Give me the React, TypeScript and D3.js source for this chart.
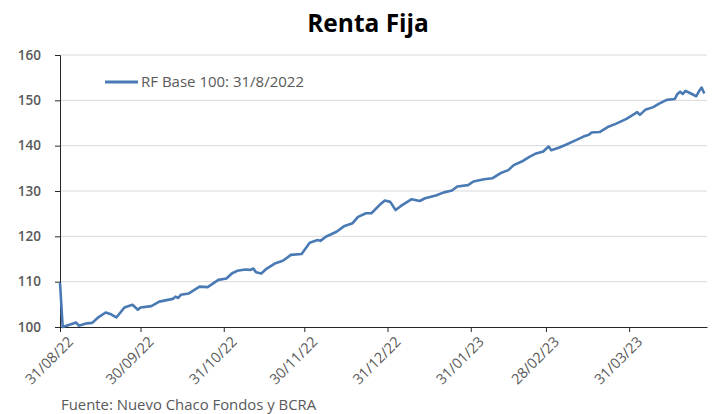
import React, { useEffect, useRef } from 'react';
import * as d3 from 'd3';

// series values (date, index base 100)
const dates = [
  '2022-08-31', '2022-09-01', '2022-09-03', '2022-09-06', '2022-09-07', '2022-09-10', '2022-09-12',
  '2022-09-14', '2022-09-17', '2022-09-19', '2022-09-21', '2022-09-24', '2022-09-27', '2022-09-29',
  '2022-09-30', '2022-10-04', '2022-10-07', '2022-10-12', '2022-10-13', '2022-10-14', '2022-10-15',
  '2022-10-18', '2022-10-22', '2022-10-25', '2022-10-29', '2022-11-01', '2022-11-03', '2022-11-05',
  '2022-11-08', '2022-11-10', '2022-11-11', '2022-11-12', '2022-11-14', '2022-11-16', '2022-11-19',
  '2022-11-22', '2022-11-25', '2022-11-29', '2022-12-02', '2022-12-05', '2022-12-06', '2022-12-08',
  '2022-12-12', '2022-12-15', '2022-12-18', '2022-12-20', '2022-12-23', '2022-12-25', '2022-12-28',
  '2022-12-30', '2023-01-01', '2023-01-03', '2023-01-05', '2023-01-09', '2023-01-12', '2023-01-14',
  '2023-01-18', '2023-01-21', '2023-01-24', '2023-01-26', '2023-01-30', '2023-02-01', '2023-02-05',
  '2023-02-08', '2023-02-11', '2023-02-14', '2023-02-16', '2023-02-19', '2023-02-22', '2023-02-24',
  '2023-02-27', '2023-03-01', '2023-03-02', '2023-03-05', '2023-03-07', '2023-03-10', '2023-03-14',
  '2023-03-16', '2023-03-17', '2023-03-20', '2023-03-23', '2023-03-26', '2023-03-30', '2023-04-02',
  '2023-04-03', '2023-04-04', '2023-04-06', '2023-04-09', '2023-04-11', '2023-04-14', '2023-04-17',
  '2023-04-18', '2023-04-19', '2023-04-20', '2023-04-21', '2023-04-23', '2023-04-25', '2023-04-26',
  '2023-04-27', '2023-04-28',
];
const values = [
  109.8, 100.0, 100.4, 101.0, 100.3, 100.8, 100.9,
  102.0, 103.2, 102.8, 102.1, 104.3, 104.9, 103.8,
  104.3, 104.6, 105.6, 106.2, 106.7, 106.4, 107.1,
  107.4, 108.9, 108.8, 110.4, 110.7, 111.8, 112.4,
  112.7, 112.6, 112.9, 112.1, 111.8, 112.9, 114.0,
  114.6, 115.9, 116.1, 118.6, 119.2, 119.0, 119.9,
  121.0, 122.3, 122.9, 124.3, 125.1, 125.1, 126.9,
  127.9, 127.6, 125.8, 126.7, 128.2, 127.8, 128.4,
  129.0, 129.7, 130.1, 131.0, 131.3, 132.1, 132.6,
  132.8, 133.9, 134.6, 135.7, 136.5, 137.6, 138.2,
  138.7, 139.8, 139.0, 139.6, 140.1, 140.9, 142.0,
  142.4, 142.9, 143.0, 144.1, 144.8, 145.9, 147.0,
  147.4, 146.8, 147.9, 148.5, 149.2, 150.1, 150.3,
  151.4, 151.9, 151.4, 152.1, 151.5, 150.9, 152.0,
  152.8, 151.5,
];

const xTicks = ['2022-08-31', '2022-09-30', '2022-10-31', '2022-11-30', '2022-12-31', '2023-01-31', '2023-02-28', '2023-03-31'];
const yTicks = [100, 110, 120, 130, 140, 150, 160];
const xDomain = ['2022-08-31', '2023-04-29'];

const title = 'Renta Fija';
const seriesName = 'RF Base 100: 31/8/2022';
const source = 'Fuente: Nuevo Chaco Fondos y BCRA';

export default function App() {
  const ref = useRef<SVGSVGElement>(null);

  useEffect(() => {
    const parse = d3.timeParse('%Y-%m-%d');
    const data = dates.map((d, i) => ({ date: parse(d) as Date, value: values[i] }));

    const margin = { top: 55, right: 7, bottom: 87, left: 60 };
    const width = 714 - margin.left - margin.right;
    const height = 414 - margin.top - margin.bottom;

    const svg = d3.select(ref.current);
    svg.selectAll('*').remove();

    const font = "'Open Sans', sans-serif";
    const labelColor = '#595959';

    svg.append('text')
      .attr('x', 368)
      .attr('y', 32)
      .attr('text-anchor', 'middle')
      .attr('font-family', font)
      .attr('font-weight', 'bold')
      .attr('font-size', 24.5)
      .attr('fill', '#000')
      .text(title);

    const g = svg.append('g').attr('transform', `translate(${margin.left},${margin.top})`);

    const x = d3.scaleTime()
      .domain(xDomain.map(d => parse(d) as Date))
      .range([0, width]);
    const y = d3.scaleLinear().domain([100, 160]).range([height, 0]);

    // gridlines
    g.append('g')
      .selectAll('line')
      .data(yTicks.filter(t => t > 100))
      .join('line')
      .attr('x1', 0)
      .attr('x2', width)
      .attr('y1', d => y(d))
      .attr('y2', d => y(d))
      .attr('stroke', '#d9d9d9')
      .attr('stroke-width', 1);

    // y axis
    const yAxis = g.append('g')
      .call(d3.axisLeft(y).tickValues(yTicks).tickSize(5).tickPadding(14));
    yAxis.select('.domain').attr('stroke', '#262626');
    yAxis.selectAll('.tick line').attr('stroke', '#262626');
    yAxis.selectAll('text')
      .attr('font-family', font)
      .attr('font-size', 13.5)
      .attr('font-weight', 600)
      .attr('fill', labelColor);

    // x axis
    const xAxis = g.append('g')
      .attr('transform', `translate(0,${height})`)
      .call(d3.axisBottom(x)
        .tickValues(xTicks.map(d => parse(d) as Date))
        .tickFormat(d => d3.timeFormat('%d/%m/%y')(d as Date))
        .tickSize(5)
        .tickSizeOuter(0));
    xAxis.select('.domain').attr('stroke', '#262626');
    xAxis.selectAll('.tick line').attr('stroke', '#262626');
    xAxis.selectAll('text')
      .attr('font-family', font)
      .attr('font-size', 14.5)
      .attr('fill', labelColor)
      .attr('text-anchor', 'end')
      .attr('dy', 0)
      .attr('transform', 'translate(8,10) rotate(-45)');

    const line = d3.line<{ date: Date; value: number }>()
      .x(d => x(d.date))
      .y(d => y(d.value));

    g.append('path')
      .datum(data)
      .attr('fill', 'none')
      .attr('stroke', '#4a7ab4')
      .attr('stroke-width', 2.6)
      .attr('stroke-linejoin', 'round')
      .attr('d', line);

    // legend
    svg.append('line')
      .attr('x1', 105)
      .attr('x2', 138)
      .attr('y1', 82)
      .attr('y2', 82)
      .attr('stroke', '#4a7ab4')
      .attr('stroke-width', 3);
    svg.append('text')
      .attr('x', 141)
      .attr('y', 87)
      .attr('font-family', font)
      .attr('font-size', 15)
      .attr('fill', labelColor)
      .text(seriesName);

    svg.append('text')
      .attr('x', 61)
      .attr('y', 410)
      .attr('font-family', font)
      .attr('font-size', 14.9)
      .attr('fill', labelColor)
      .text(source);
  }, []);

  return (
    <svg ref={ref} width={714} height={414}
      style={{ position: 'absolute', left: 0, top: 0, background: '#fff' }} />
  );
}
